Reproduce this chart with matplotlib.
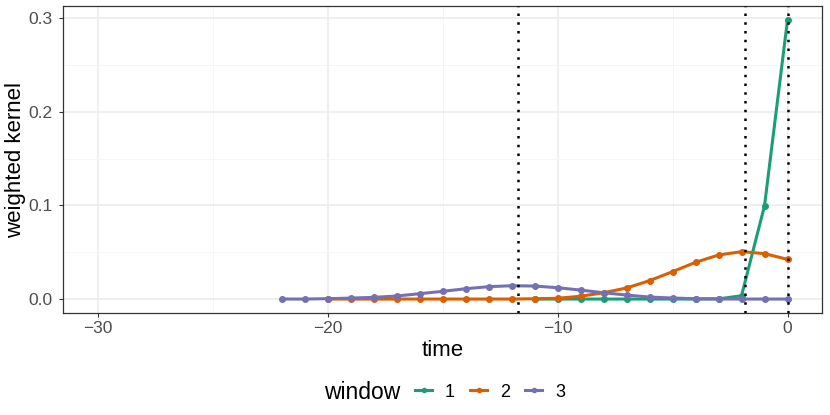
import matplotlib
matplotlib.use("Agg")
import matplotlib.pyplot as plt
from matplotlib.lines import Line2D
from matplotlib.ticker import MultipleLocator

plt.rcParams['font.family'] = ['Liberation Sans', 'DejaVu Sans']

# window 1
t1 = [-11, -10, -9, -8, -7, -6, -5, -4, -3, -2, -1, 0]
k1 = [0.0, 0.0, 0.0, 0.0, 0.0, 0.0, 0.0, 0.0, 0.0002, 0.0035, 0.0995, 0.298]
# window 2
t2 = list(range(-20, 1))
k2 = [0.0, 0.0, 0.0, 0.0, 0.0, 0.0, 0.0, 0.0, 0.0, 0.0003, 0.0008, 0.003,
      0.0067, 0.0118, 0.0196, 0.0292, 0.0392, 0.047, 0.0506, 0.0485, 0.0424]
# window 3
t3 = list(range(-22, 1))
k3 = [0.0, 0.0, 0.0004, 0.001, 0.0018, 0.0032, 0.0057, 0.0082, 0.011, 0.0132,
      0.0142, 0.0139, 0.0121, 0.0096, 0.0067, 0.0043, 0.0021, 0.0011, 0.0003,
      0.0001, 0.0, 0.0, 0.0]
vlines = [-11.7, -1.86, 0]

colors = ['#1B9E77', '#D95F02', '#7570B3']
series = [(t1, k1), (t2, k2), (t3, k3)]

fig = plt.figure(figsize=(8.3, 4.15), dpi=100)
ax = fig.add_axes([63 / 830, 1 - 313 / 415, (822 - 63) / 830, (313 - 6) / 415])

for (t, k), c in zip(series, colors):
    ax.plot(t, k, color=c, lw=2.2, marker='o', ms=4, zorder=3)

for v in vlines:
    ax.axvline(v, color='black', ls=(0, (1, 2.5)), lw=1.8, zorder=4)

ax.set_xlim(-31.5, 1.5)
ax.set_ylim(-0.0149, 0.3129)
ax.xaxis.set_minor_locator(MultipleLocator(5))
ax.yaxis.set_minor_locator(MultipleLocator(0.05))
ax.set_xticks([-30, -20, -10, 0])
ax.set_xticklabels(['\u221230', '\u221220', '\u221210', '0'])
ax.set_yticks([0, 0.1, 0.2, 0.3])
ax.set_yticklabels(['0.0', '0.1', '0.2', '0.3'])
ax.grid(which='major', color='#EBEBEB', lw=1.1, zorder=0)
ax.grid(which='minor', color='#F5F5F5', lw=0.6, zorder=0)
ax.set_axisbelow(True)
ax.tick_params(which='major', length=2.75, color='#333333', labelsize=12.5, labelcolor='#4D4D4D')
ax.tick_params(axis='x', pad=3)
ax.tick_params(axis='y', pad=5)
ax.tick_params(which='minor', length=0)
for s in ax.spines.values():
    s.set_color('#333333')
    s.set_linewidth(0.9)

ax.set_xlabel('time', fontsize=16, labelpad=3)
ax.set_ylabel('weighted kernel', fontsize=16)
ax.yaxis.set_label_coords((26 - 63) / 759, 0.5)

fig.text(362 / 830, 1 - 392 / 415, 'window', fontsize=16.5, ha='center', va='center')
handles = [Line2D([], [], color=c, lw=2.2, marker='o', ms=3) for c in colors]
fig.legend(handles, ['1', '2', '3'], ncol=3, frameon=False, fontsize=13,
           loc='center left', bbox_to_anchor=(415 / 830, 1 - 392 / 415),
           borderpad=0, borderaxespad=0,
           handlelength=0.95, handletextpad=0.7, columnspacing=0.85)

fig.savefig('out.png', dpi=100)
